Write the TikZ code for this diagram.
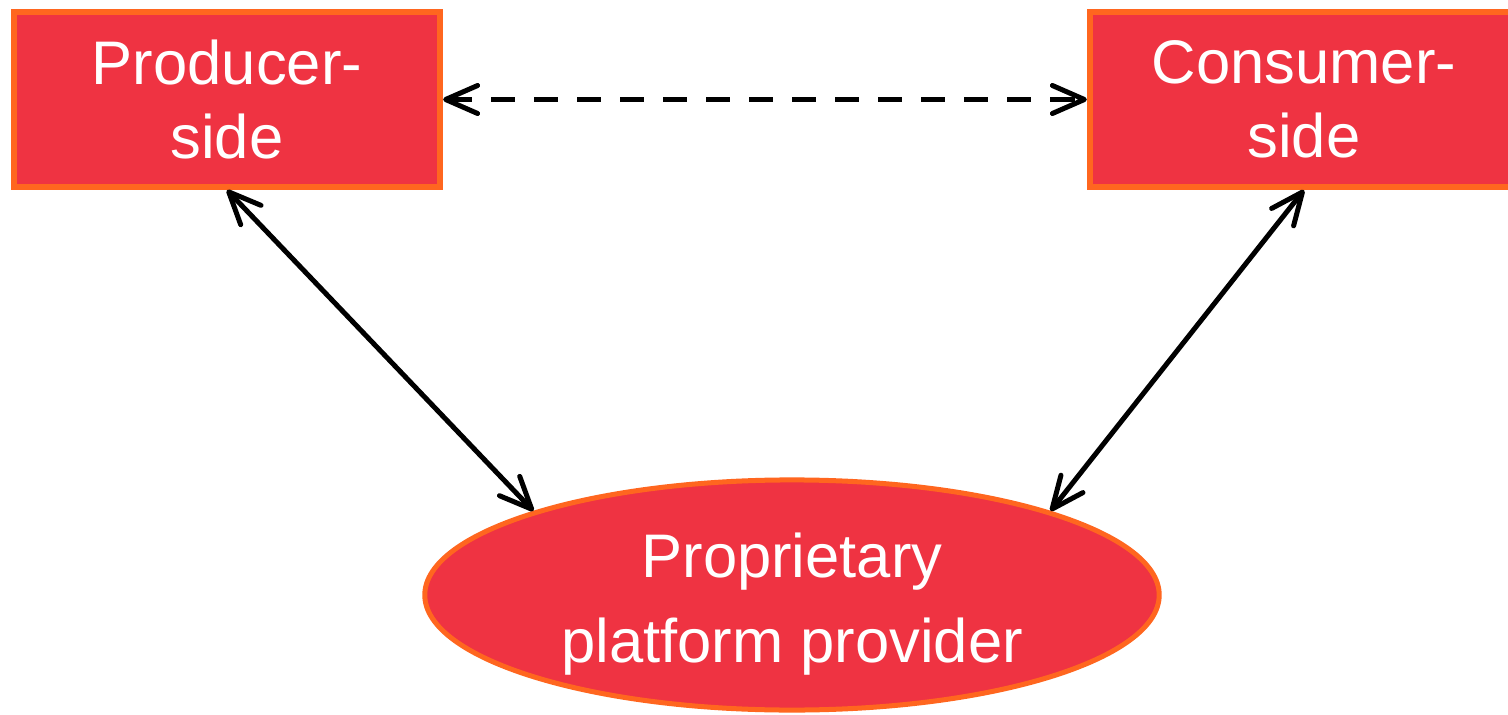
\documentclass[tikz,border=0pt]{standalone}
\usepackage{fontspec}
\setmainfont{Liberation Sans}
\usetikzlibrary{arrows.meta,shapes.geometric}
\definecolor{boxred}{RGB}{239,51,66}
\definecolor{edgeorange}{RGB}{255,102,31}
\tikzset{
  party/.style={rectangle, draw=edgeorange, fill=boxred, line width=0.06cm,
    minimum width=4.26cm, minimum height=1.75cm, inner sep=0pt,
    text=white, align=center, font=\fontsize{17.5}{21}\selectfont},
  platform/.style={ellipse, draw=edgeorange, fill=boxred, line width=0.05cm,
    minimum width=7.34cm, minimum height=2.30cm, inner sep=0pt,
    text=white, align=center, font=\fontsize{17.5}{24.2}\selectfont},
  link/.style={line width=0.05cm,
    {Straight Barb[length=3.2mm,width=2.8mm,round]}-{Straight Barb[length=3.2mm,width=2.8mm,round]}},
  peerlink/.style={link, dash pattern=on 0.24cm off 0.19cm}
}
\begin{document}
\begin{tikzpicture}[x=0.01cm,y=-0.01cm]
  \useasboundingbox (0,0) rectangle (1508,715);
  \begin{scope}
    \clip (0,0) rectangle (1508,715);
    \node[party] (prod) at (227,99.5) {Producer-\\side};
    \node[party, minimum width=4.28cm] (cons) at (1304,99.5) {Consumer-\\side};
    \node[platform] (prov) at (792,595) {\rule{0pt}{18pt}Proprietary\\platform provider};
  \end{scope}
  \draw[peerlink] (prod.east) -- (cons.west);
  \draw[link] (prod.south) -- (prov.162);
  \draw[link] (cons.south) -- (prov.18);
\end{tikzpicture}
\end{document}
